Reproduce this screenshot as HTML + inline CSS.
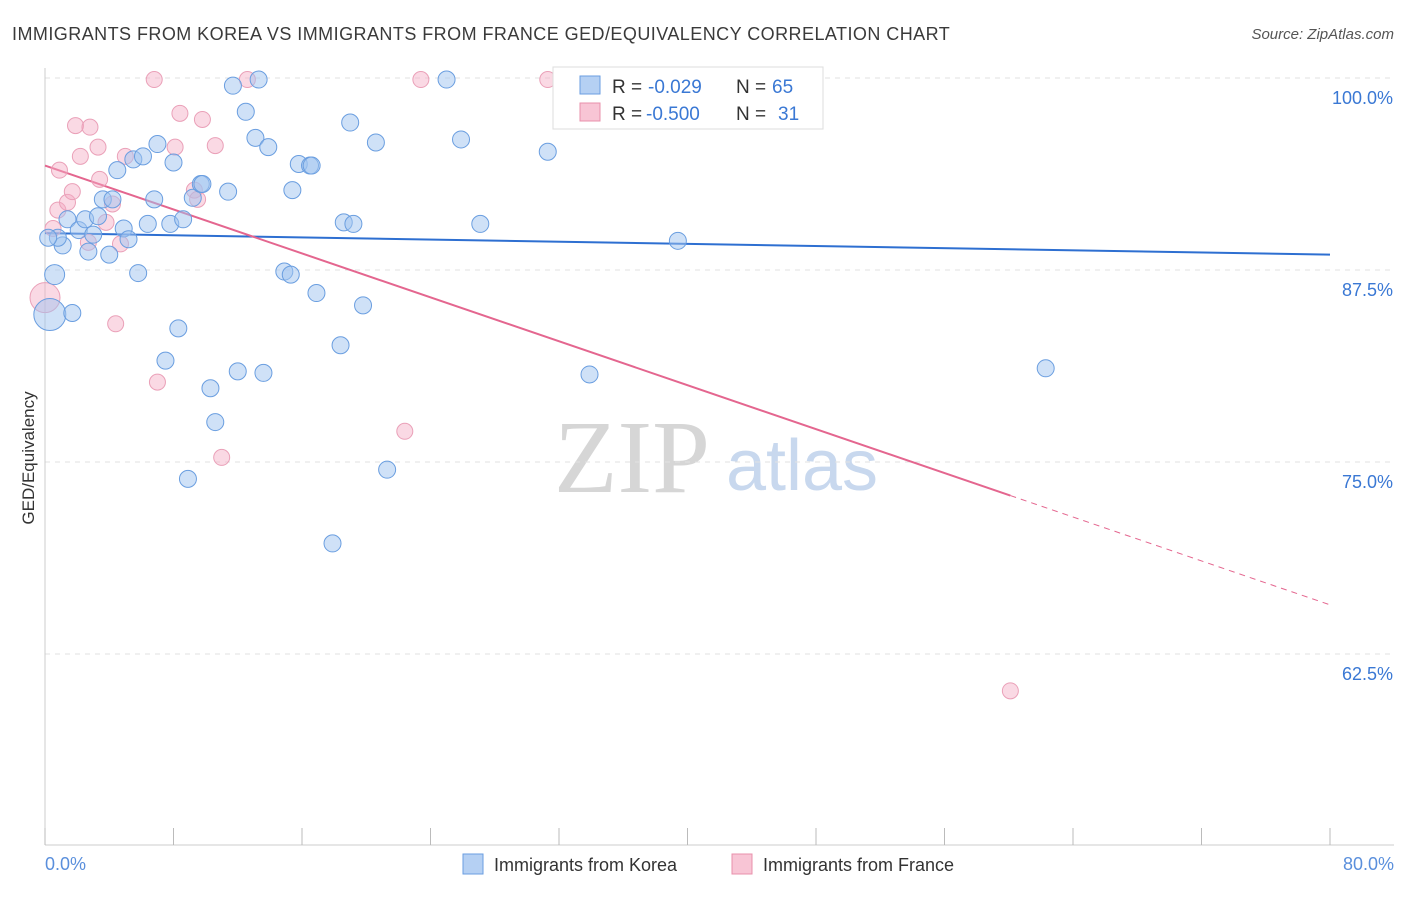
<!DOCTYPE html>
<html><head><meta charset="utf-8">
<style>
body{margin:0;background:#fff;font-family:"Liberation Sans",sans-serif;}
svg text{font-family:"Liberation Sans",sans-serif;}
</style></head>
<body>
<svg id="chart" width="1406" height="892" xmlns="http://www.w3.org/2000/svg">
<text x="12" y="40" font-size="18" fill="#3a3a3a" letter-spacing="0.45">IMMIGRANTS FROM KOREA VS IMMIGRANTS FROM FRANCE GED/EQUIVALENCY CORRELATION CHART</text>
<text x="1394" y="39" font-size="15" fill="#555" text-anchor="end" font-style="italic">Source: ZipAtlas.com</text>
<text transform="translate(34,458) rotate(-90)" font-size="17" fill="#333" text-anchor="middle">GED/Equivalency</text>
<g>
<text x="632" y="492" font-size="104" fill="#d6d6d6" style="font-family:'Liberation Serif',serif" text-anchor="middle">ZIP</text>
<text x="802" y="490" font-size="72" fill="#c8d8ee" text-anchor="middle">atlas</text>
</g>
<g id="grid"></g>
<g id="axes"></g>
<g id="lines"></g>
<g id="points"></g>
<g>
<rect x="553" y="67" width="270" height="62" fill="#fff" stroke="#ddd"/>
<rect x="580" y="76" width="20" height="18" fill="#b5d0f3" stroke="#6a9ee0"/>
<text x="612" y="93" font-size="19" fill="#333">R =</text>
<text x="648" y="93" font-size="19" fill="#3a78d4">-0.029</text>
<text x="736" y="93" font-size="19" fill="#333">N =</text>
<text x="772" y="93" font-size="19" fill="#3a78d4">65</text>
<rect x="580" y="103" width="20" height="18" fill="#f8c5d5" stroke="#e890ab"/>
<text x="612" y="120" font-size="19" fill="#333">R =</text>
<text x="646" y="120" font-size="19" fill="#3a78d4">-0.500</text>
<text x="736" y="120" font-size="19" fill="#333">N =</text>
<text x="778" y="120" font-size="19" fill="#3a78d4">31</text>
</g>
<g>
<rect x="463" y="854" width="20" height="20" fill="#b5d0f3" stroke="#6a9ee0"/>
<text x="494" y="871" font-size="18" fill="#333">Immigrants from Korea</text>
<rect x="732" y="854" width="20" height="20" fill="#f8c5d5" stroke="#e890ab"/>
<text x="763" y="871" font-size="18" fill="#333">Immigrants from France</text>
</g>
</svg>
<script>
const koreaX=[0.3,0.6,1.1,0.8,1.7,1.4,2.1,2.5,2.7,3.0,3.3,3.6,4.0,4.2,4.5,4.9,5.2,5.5,5.8,6.1,6.4,6.8,7.0,7.5,7.8,8.0,8.3,8.6,8.9,9.2,9.7,9.8,10.3,10.6,11.4,11.7,12.0,12.5,13.1,13.3,13.6,13.9,14.9,15.3,15.4,15.8,16.5,16.6,16.9,17.9,18.4,18.6,19.0,19.2,19.8,20.6,21.3,25.0,25.9,27.1,31.3,33.9,39.4,62.3,0.2];
const koreaY=[84.6,87.2,89.1,89.6,84.7,90.8,90.1,90.8,88.7,89.8,91.0,92.1,88.5,92.1,94.0,90.2,89.5,94.7,87.3,94.9,90.5,92.1,95.7,81.6,90.5,94.5,83.7,90.8,73.9,92.2,93.1,93.1,79.8,77.6,92.6,99.5,80.9,97.8,96.1,99.9,80.8,95.5,87.4,87.2,92.7,94.4,94.3,94.3,86.0,69.7,82.6,90.6,97.1,90.5,85.2,95.8,74.5,99.9,96.0,90.5,95.2,80.7,89.4,81.1,89.6];
const koreaBig=[0,1];
const franceX=[0,0.5,0.8,0.9,1.4,1.7,1.9,2.2,2.8,2.7,3.3,3.4,3.8,4.2,4.4,4.7,5.0,6.8,7.0,8.4,8.1,9.3,9.5,9.8,10.6,11.0,12.6,22.4,23.4,31.3,60.1];
const franceY=[85.7,90.2,91.4,94.0,91.9,92.6,96.9,94.9,96.8,89.3,95.5,93.4,90.6,91.8,84.0,89.2,94.9,99.9,80.2,97.7,95.5,92.7,92.1,97.3,95.6,75.3,99.9,77.0,99.9,99.9,60.1];
const koreaTrend=[89.9,88.5];
const franceTrend=[94.3,65.7];
const franceSolidEnd=60.1;
const yTicks=[100,87.5,75,62.5];
const xTickLabels=["0.0%","80.0%"];

const NS="http://www.w3.org/2000/svg";
const X=v=>45+v*(1285/80);
const Y=v=>78+(100-v)*(192/12.5);
function mk(tag,attrs,parent){const e=document.createElementNS(NS,tag);for(const k in attrs)e.setAttribute(k,attrs[k]);parent.appendChild(e);return e;}
const grid=document.getElementById('grid'),axes=document.getElementById('axes'),lines=document.getElementById('lines'),pts=document.getElementById('points');
yTicks.forEach(t=>{
 const l=mk('line',{x1:45,x2:1394,y1:Y(t),y2:Y(t),stroke:'#e2e2e2','stroke-dasharray':'5,5'},grid);
 
 
 const tx=mk('text',{x:1393,y:Y(t)+26,'font-size':18,fill:'#3a78d4','text-anchor':'end'},grid);
 tx.textContent=(t===100?'100.0':t.toFixed(1))+'%';
 
 
});
const ax=mk('line',{x1:45,x2:1394,y1:845,y2:845,stroke:'#ccc'},axes);


const ay=mk('line',{x1:45,x2:45,y1:68,y2:845,stroke:'#ccc'},axes);


for(let i=0;i<=10;i++){const tk=mk('line',{x1:X(i*8),x2:X(i*8),y1:828,y2:845,stroke:'#bbb'},axes);
 
 }
const xl0=mk('text',{x:45,y:870,'font-size':18,fill:'#5a8fdc'},axes);xl0.textContent=xTickLabels[0];


const xl1=mk('text',{x:1394,y:870,'font-size':18,fill:'#5a8fdc','text-anchor':'end'},axes);xl1.textContent=xTickLabels[1];



franceX.forEach((x,i)=>{const c=mk('circle',{cx:X(x),cy:Y(franceY[i]),r:i===0?15:8,fill:'rgba(245,170,195,0.45)',stroke:'#eaa0b8','stroke-width':1},pts);
 
 });
koreaX.forEach((x,i)=>{const c=mk('circle',{cx:X(x),cy:Y(koreaY[i]),r:koreaBig.includes(i)?(i===0?16:10):8.5,fill:'rgba(160,195,240,0.5)',stroke:'#6a9ee0','stroke-width':1},pts);
 
 });

const kl=mk('line',{x1:X(0),y1:Y(koreaTrend[0]),x2:X(80),y2:Y(koreaTrend[1]),stroke:'#2e6fd1','stroke-width':2},lines);


const fy=x=>franceTrend[0]+(franceTrend[1]-franceTrend[0])*x/80;
const fl=mk('line',{x1:X(0),y1:Y(franceTrend[0]),x2:X(franceSolidEnd),y2:Y(fy(franceSolidEnd)),stroke:'#e4668f','stroke-width':2},lines);


const fd=mk('line',{x1:X(franceSolidEnd),y1:Y(fy(franceSolidEnd)),x2:X(80),y2:Y(franceTrend[1]),stroke:'#e4668f','stroke-width':1,'stroke-dasharray':'6,5'},lines);


</script>
</body></html>
